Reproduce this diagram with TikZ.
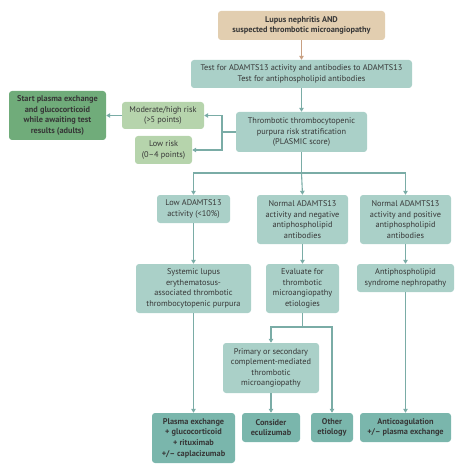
\documentclass[tikz,border=0pt]{standalone}
\usepackage{fontspec}
\setmainfont{PT Sans}
\usetikzlibrary{arrows.meta}

\definecolor{tanfill}{RGB}{226,206,176}
\definecolor{tanline}{RGB}{200,160,130}
\definecolor{tealfill}{RGB}{170,208,200}
\definecolor{tealdark}{RGB}{122,182,172}
\definecolor{greenlight}{RGB}{182,212,172}
\definecolor{greendark}{RGB}{112,172,122}
\definecolor{tealline}{RGB}{122,172,166}
\definecolor{txt}{RGB}{55,55,55}

\begin{document}
\begin{tikzpicture}[x=1pt,y=-1pt]
	\tikzset{box/.style={rounded corners=3pt, align=center, inner sep=1pt, text=txt, font=\fontsize{8.3}{10.6}\selectfont},
		start/.style={box, fill=tanfill, font=\fontsize{8.3}{10.6}\selectfont\bfseries},
		test/.style={box, fill=tealfill},
		risk/.style={box, fill=greenlight},
		urgent/.style={box, fill=greendark, font=\fontsize{8.3}{10.6}\selectfont\bfseries},
		treat/.style={box, fill=tealdark, font=\fontsize{8.3}{10.6}\selectfont\bfseries},
		arr/.style={draw=tealline, line width=1.1pt, -{Triangle[length=4pt,width=4.5pt]}},
		lin/.style={draw=tealline, line width=1.1pt}}
	\useasboundingbox (0,0) rectangle (474,468);

	% top of the chart
	\node[start, minimum width=167pt, minimum height=29pt] (lupus) at (301.5,25.5) {Lupus nephritis AND\\suspected thrombotic microangiopathy};
	\node[test, minimum width=221pt, minimum height=28pt] (tests) at (301.5,74) {Test for ADAMTS13 activity and antibodies to ADAMTS13\\Test for antiphospholipid antibodies};
	\node[test, minimum width=131pt, minimum height=40pt] (plasmic) at (301.5,132) {Thrombotic thrombocytopenic\\purpura risk stratification\\(PLASMIC score)};

	% risk groups
	\node[risk, minimum width=82pt, minimum height=27pt] (modrisk) at (163,115.5) {Moderate/high risk\\(>5 points)};
	\node[risk, minimum width=57pt, minimum height=28pt] (lowrisk) at (163.5,150) {Low risk\\(0--4 points)};
	\node[urgent, minimum width=97pt, minimum height=49pt] (startpe) at (57.5,115.5) {Start plasma exchange\\and glucocorticoid\\while awaiting test\\results (adults)};

	% test results
	\node[test, minimum width=73pt, minimum height=28pt] (lowadam) at (193.5,209) {Low ADAMTS13\\activity (<10\%)};
	\node[test, minimum width=91pt, minimum height=49pt] (normneg) at (302.5,219.5) {Normal ADAMTS13\\activity and negative\\antiphospholipid\\antibodies};
	\node[test, minimum width=91pt, minimum height=49pt] (normpos) at (405.5,219.5) {Normal ADAMTS13\\activity and positive\\antiphospholipid\\antibodies};

	% diagnoses
	\node[test, minimum width=115pt, minimum height=49pt] (slettp) at (193.5,288.5) {Systemic lupus\\erythematosus-\\associated thrombotic\\thrombocytopenic purpura};
	\node[test, minimum width=73pt, minimum height=49pt] (evaltma) at (302.5,288.5) {Evaluate for\\thrombotic\\microangiopathy\\etiologies};
	\node[test, minimum width=97pt, minimum height=28pt] (apsneph) at (405.5,278) {Antiphospholipid\\syndrome nephropathy};
	\node[test, minimum width=96pt, minimum height=50pt] (cmtma) at (271,368) {Primary or secondary\\complement-mediated\\thrombotic\\microangiopathy};

	% treatments
	\node[treat, minimum width=83pt, minimum height=50pt] (plex) at (193.5,438) {Plasma exchange\\+ glucocorticoid\\+ rituximab\\+/-- caplacizumab};
	\node[treat, minimum width=58pt, minimum height=29pt] (eculi) at (271,427.5) {Consider\\eculizumab};
	\node[treat, minimum width=42pt, minimum height=29pt] (other) at (332,427.5) {Other\\etiology};
	\node[treat, minimum width=91pt, minimum height=29pt] (anticoag) at (405.5,427.5) {Anticoagulation\\+/-- plasma exchange};

	% connectors
	\draw[arr, draw=tanline] (lupus) -- (tests);
	\draw[arr] (tests) -- (plasmic);
	\coordinate (risksplit) at (222,132);
	\draw[lin] (plasmic.west) -- (risksplit);
	\draw[arr] (risksplit) |- (modrisk);
	\draw[arr] (risksplit) |- (lowrisk);
	\draw[arr] (modrisk) -- (startpe);

	\coordinate (adamsplit) at (302.5,173);
	\draw[lin] (plasmic.south) -- (plasmic.south |- adamsplit);
	\draw[arr] (plasmic.south |- adamsplit) -- (normneg.north);
	\draw[arr] (adamsplit) -| (lowadam.north);
	\draw[arr] (adamsplit) -| (normpos.north);

	\draw[arr] (lowadam) -- (slettp);
	\draw[arr] (normneg) -- (evaltma);
	\draw[arr] (normpos) -- (apsneph);

	\coordinate (evalsplit) at (302.5,327);
	\draw[lin] (evaltma) -- (evalsplit);
	\draw[arr] (evalsplit) -| (cmtma.north);
	\draw[arr] (evalsplit) -| (other.north);

	\draw[arr] (slettp) -- (plex);
	\draw[arr] (cmtma) -- (eculi);
	\draw[arr] (apsneph) -- (anticoag);
\end{tikzpicture}
\end{document}
